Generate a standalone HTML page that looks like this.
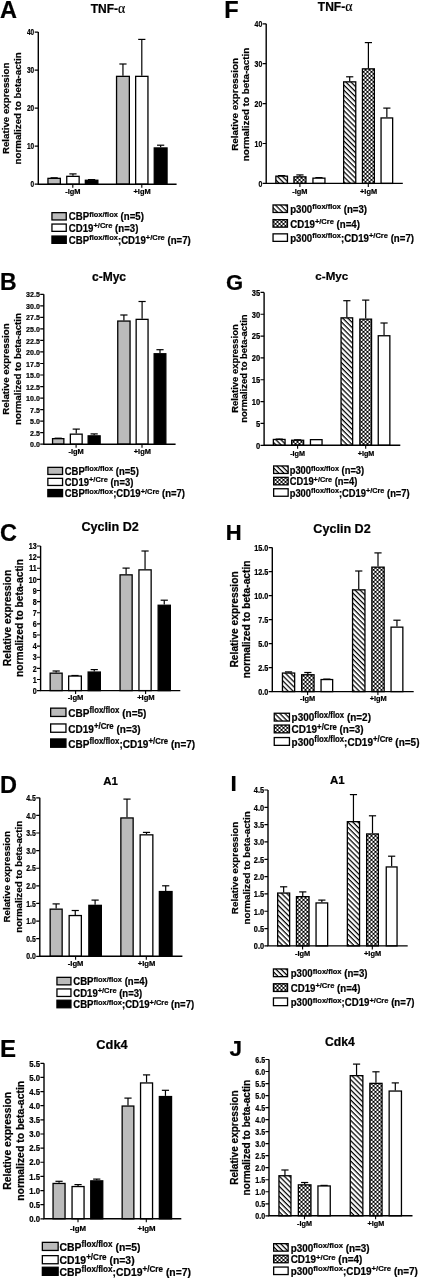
<!DOCTYPE html>
<html><head><meta charset="utf-8"><style>
html,body{margin:0;padding:0;background:#fff;}
svg{display:block;-webkit-font-smoothing:antialiased;will-change:transform;}
text{font-family:"Liberation Sans", sans-serif;fill:#000;stroke:#000;stroke-width:0.22px;}
</style></head><body>
<svg width="421" height="1280" viewBox="0 0 421 1280">
<defs>
<pattern id="hatch" patternUnits="userSpaceOnUse" width="3.6" height="3.6" patternTransform="rotate(45)">
<rect width="3.6" height="3.6" fill="#fff"/><rect y="0" width="3.6" height="1.25" fill="#000"/></pattern>
<pattern id="check" patternUnits="userSpaceOnUse" width="4" height="4">
<rect width="4" height="4" fill="#000"/><circle cx="3.5" cy="1.9" r="1.12" fill="#fff"/><circle cx="1.5" cy="3.9" r="1.12" fill="#fff"/><circle cx="1.5" cy="-0.1" r="1.12" fill="#fff"/><circle cx="-0.5" cy="1.9" r="1.12" fill="#fff"/></pattern>
</defs>
<rect width="421" height="1280" fill="#fff"/>
<text x="0.0" y="18.4" font-size="23.5" font-weight="bold">A</text>
<text x="108" y="13.0" font-size="12" font-weight="bold" text-anchor="middle">TNF-<tspan font-family="Liberation Serif" font-weight="normal" font-size="13.80">α</tspan></text>
<line x1="54.15" y1="177.70" x2="54.15" y2="177.80" stroke="#000" stroke-width="1.2"/>
<line x1="50.55" y1="177.80" x2="57.75" y2="177.80" stroke="#000" stroke-width="1.2"/>
<rect x="47.95" y="178.35" width="12.40" height="5.85" fill="#bbbbbb" stroke="#000" stroke-width="1.3"/>
<line x1="72.95" y1="175.70" x2="72.95" y2="173.90" stroke="#000" stroke-width="1.2"/>
<line x1="69.35" y1="173.90" x2="76.55" y2="173.90" stroke="#000" stroke-width="1.2"/>
<rect x="66.75" y="176.35" width="12.40" height="7.85" fill="#ffffff" stroke="#000" stroke-width="1.3"/>
<line x1="91.60" y1="179.60" x2="91.60" y2="179.60" stroke="#000" stroke-width="1.2"/>
<line x1="88.00" y1="179.60" x2="95.20" y2="179.60" stroke="#000" stroke-width="1.2"/>
<rect x="85.35" y="180.25" width="12.50" height="3.95" fill="#000000" stroke="#000" stroke-width="1.3"/>
<line x1="122.95" y1="75.70" x2="122.95" y2="64.00" stroke="#000" stroke-width="1.2"/>
<line x1="119.35" y1="64.00" x2="126.55" y2="64.00" stroke="#000" stroke-width="1.2"/>
<rect x="116.55" y="76.35" width="12.80" height="107.85" fill="#bbbbbb" stroke="#000" stroke-width="1.3"/>
<line x1="141.80" y1="75.70" x2="141.80" y2="39.40" stroke="#000" stroke-width="1.2"/>
<line x1="138.20" y1="39.40" x2="145.40" y2="39.40" stroke="#000" stroke-width="1.2"/>
<rect x="135.65" y="76.35" width="12.30" height="107.85" fill="#ffffff" stroke="#000" stroke-width="1.3"/>
<line x1="160.65" y1="147.30" x2="160.65" y2="145.20" stroke="#000" stroke-width="1.2"/>
<line x1="157.05" y1="145.20" x2="164.25" y2="145.20" stroke="#000" stroke-width="1.2"/>
<rect x="154.25" y="147.95" width="12.80" height="36.25" fill="#000000" stroke="#000" stroke-width="1.3"/>
<path d="M38.30 32.10 V184.20 H176.60" fill="none" stroke="#000" stroke-width="1.4"/>
<text transform="translate(34.20 187.43) scale(0.766 1)" font-size="8.51" font-weight="bold" text-anchor="end">0</text>
<text transform="translate(34.20 149.40) scale(0.766 1)" font-size="8.51" font-weight="bold" text-anchor="end">10</text>
<text transform="translate(34.20 111.38) scale(0.766 1)" font-size="8.51" font-weight="bold" text-anchor="end">20</text>
<text transform="translate(34.20 73.35) scale(0.766 1)" font-size="8.51" font-weight="bold" text-anchor="end">30</text>
<text transform="translate(34.20 35.33) scale(0.766 1)" font-size="8.51" font-weight="bold" text-anchor="end">40</text>
<path d="M34.70 184.20 H38.30 M34.70 146.17 H38.30 M34.70 108.15 H38.30 M34.70 70.12 H38.30 M34.70 32.10 H38.30" stroke="#000" stroke-width="1.2"/>
<line x1="72.80" y1="184.20" x2="72.80" y2="187.70" stroke="#000" stroke-width="1.1"/>
<line x1="141.80" y1="184.20" x2="141.80" y2="187.70" stroke="#000" stroke-width="1.1"/>
<text x="72.80" y="194.20" font-size="7.42" font-weight="bold" text-anchor="middle">-IgM</text>
<text x="142.10" y="194.20" font-size="7.42" font-weight="bold" text-anchor="middle">+IgM</text>
<text transform="translate(9.30 108.40) rotate(-90) scale(1.0 1)" font-size="9.74" font-weight="bold" text-anchor="middle">Relative expression</text>
<text transform="translate(21.10 108.40) rotate(-90) scale(1.0 1)" font-size="9.74" font-weight="bold" text-anchor="middle">normalized to beta-actin</text>
<rect x="51.95" y="212.65" width="14.30" height="7.30" fill="#bbbbbb" stroke="#000" stroke-width="1.3"/>
<text transform="translate(68.80 220.30) scale(0.93 1)" font-weight="bold" xml:space="preserve"><tspan font-size="10.36">CBP</tspan><tspan font-size="8.08" dy="-3.42">flox/flox</tspan><tspan font-size="10.36" dy="3.42"> (n=5)</tspan></text>
<rect x="51.95" y="224.05" width="14.30" height="7.30" fill="#ffffff" stroke="#000" stroke-width="1.3"/>
<text transform="translate(68.80 231.70) scale(0.93 1)" font-weight="bold" xml:space="preserve"><tspan font-size="10.36">CD19</tspan><tspan font-size="8.08" dy="-3.42">+/Cre</tspan><tspan font-size="10.36" dy="3.42"> (n=3)</tspan></text>
<rect x="51.95" y="236.05" width="14.30" height="7.30" fill="#000000" stroke="#000" stroke-width="1.3"/>
<text transform="translate(68.80 243.70) scale(0.93 1)" font-weight="bold" xml:space="preserve"><tspan font-size="10.36">CBP</tspan><tspan font-size="8.08" dy="-3.42">flox/flox</tspan><tspan font-size="10.36" dy="3.42">;CD19</tspan><tspan font-size="8.08" dy="-3.42">+/Cre</tspan><tspan font-size="10.36" dy="3.42"> (n=7)</tspan></text>
<text x="0.0" y="290.3" font-size="23.0" font-weight="bold">B</text>
<text x="109" y="280.9" font-size="12" font-weight="bold" text-anchor="middle">c-Myc</text>
<line x1="58.20" y1="438.00" x2="58.20" y2="438.20" stroke="#000" stroke-width="1.2"/>
<line x1="54.60" y1="438.20" x2="61.80" y2="438.20" stroke="#000" stroke-width="1.2"/>
<rect x="52.55" y="438.65" width="11.30" height="5.55" fill="#bbbbbb" stroke="#000" stroke-width="1.3"/>
<line x1="76.25" y1="433.50" x2="76.25" y2="429.10" stroke="#000" stroke-width="1.2"/>
<line x1="72.65" y1="429.10" x2="79.85" y2="429.10" stroke="#000" stroke-width="1.2"/>
<rect x="70.35" y="434.15" width="11.80" height="10.05" fill="#ffffff" stroke="#000" stroke-width="1.3"/>
<line x1="94.15" y1="435.20" x2="94.15" y2="433.90" stroke="#000" stroke-width="1.2"/>
<line x1="90.55" y1="433.90" x2="97.75" y2="433.90" stroke="#000" stroke-width="1.2"/>
<rect x="88.15" y="435.85" width="12.00" height="8.35" fill="#000000" stroke="#000" stroke-width="1.3"/>
<line x1="123.90" y1="320.40" x2="123.90" y2="315.00" stroke="#000" stroke-width="1.2"/>
<line x1="120.30" y1="315.00" x2="127.50" y2="315.00" stroke="#000" stroke-width="1.2"/>
<rect x="117.75" y="321.05" width="12.30" height="123.15" fill="#bbbbbb" stroke="#000" stroke-width="1.3"/>
<line x1="142.10" y1="318.70" x2="142.10" y2="301.50" stroke="#000" stroke-width="1.2"/>
<line x1="138.50" y1="301.50" x2="145.70" y2="301.50" stroke="#000" stroke-width="1.2"/>
<rect x="136.15" y="319.35" width="11.90" height="124.85" fill="#ffffff" stroke="#000" stroke-width="1.3"/>
<line x1="160.00" y1="353.10" x2="160.00" y2="349.70" stroke="#000" stroke-width="1.2"/>
<line x1="156.40" y1="349.70" x2="163.60" y2="349.70" stroke="#000" stroke-width="1.2"/>
<rect x="154.15" y="353.75" width="11.70" height="90.45" fill="#000000" stroke="#000" stroke-width="1.3"/>
<path d="M43.80 294.30 V444.20 H175.60" fill="none" stroke="#000" stroke-width="1.4"/>
<text transform="translate(39.90 447.27) scale(0.880 1)" font-size="8.06" font-weight="bold" text-anchor="end">0.0</text>
<text transform="translate(39.90 435.74) scale(0.880 1)" font-size="8.06" font-weight="bold" text-anchor="end">2.5</text>
<text transform="translate(39.90 424.21) scale(0.880 1)" font-size="8.06" font-weight="bold" text-anchor="end">5.0</text>
<text transform="translate(39.90 412.68) scale(0.880 1)" font-size="8.06" font-weight="bold" text-anchor="end">7.5</text>
<text transform="translate(39.90 401.15) scale(0.880 1)" font-size="8.06" font-weight="bold" text-anchor="end">10.0</text>
<text transform="translate(39.90 389.62) scale(0.880 1)" font-size="8.06" font-weight="bold" text-anchor="end">12.5</text>
<text transform="translate(39.90 378.09) scale(0.880 1)" font-size="8.06" font-weight="bold" text-anchor="end">15.0</text>
<text transform="translate(39.90 366.56) scale(0.880 1)" font-size="8.06" font-weight="bold" text-anchor="end">17.5</text>
<text transform="translate(39.90 355.03) scale(0.880 1)" font-size="8.06" font-weight="bold" text-anchor="end">20.0</text>
<text transform="translate(39.90 343.50) scale(0.880 1)" font-size="8.06" font-weight="bold" text-anchor="end">22.5</text>
<text transform="translate(39.90 331.96) scale(0.880 1)" font-size="8.06" font-weight="bold" text-anchor="end">25.0</text>
<text transform="translate(39.90 320.43) scale(0.880 1)" font-size="8.06" font-weight="bold" text-anchor="end">27.5</text>
<text transform="translate(39.90 308.90) scale(0.880 1)" font-size="8.06" font-weight="bold" text-anchor="end">30.0</text>
<text transform="translate(39.90 297.37) scale(0.880 1)" font-size="8.06" font-weight="bold" text-anchor="end">32.5</text>
<path d="M40.20 444.20 H43.80 M40.20 432.67 H43.80 M40.20 421.14 H43.80 M40.20 409.61 H43.80 M40.20 398.08 H43.80 M40.20 386.55 H43.80 M40.20 375.02 H43.80 M40.20 363.48 H43.80 M40.20 351.95 H43.80 M40.20 340.42 H43.80 M40.20 328.89 H43.80 M40.20 317.36 H43.80 M40.20 305.83 H43.80 M40.20 294.30 H43.80" stroke="#000" stroke-width="1.2"/>
<line x1="76.10" y1="444.20" x2="76.10" y2="447.70" stroke="#000" stroke-width="1.1"/>
<line x1="142.00" y1="444.20" x2="142.00" y2="447.70" stroke="#000" stroke-width="1.1"/>
<text x="76.10" y="454.20" font-size="7.42" font-weight="bold" text-anchor="middle">-IgM</text>
<text x="142.30" y="454.20" font-size="7.42" font-weight="bold" text-anchor="middle">+IgM</text>
<text transform="translate(8.90 369.00) rotate(-90) scale(1.0 1)" font-size="9.74" font-weight="bold" text-anchor="middle">Relative expression</text>
<text transform="translate(21.30 369.00) rotate(-90) scale(1.0 1)" font-size="9.74" font-weight="bold" text-anchor="middle">normalized to beta-actin</text>
<rect x="47.85" y="467.35" width="14.70" height="7.10" fill="#bbbbbb" stroke="#000" stroke-width="1.3"/>
<text transform="translate(64.70 474.80) scale(0.918 1)" font-weight="bold" xml:space="preserve"><tspan font-size="10.36">CBP</tspan><tspan font-size="8.08" dy="-3.42">flox/flox</tspan><tspan font-size="10.36" dy="3.42"> (n=5)</tspan></text>
<rect x="47.85" y="478.35" width="14.70" height="7.10" fill="#ffffff" stroke="#000" stroke-width="1.3"/>
<text transform="translate(64.70 485.80) scale(0.918 1)" font-weight="bold" xml:space="preserve"><tspan font-size="10.36">CD19</tspan><tspan font-size="8.08" dy="-3.42">+/Cre</tspan><tspan font-size="10.36" dy="3.42"> (n=3)</tspan></text>
<rect x="47.85" y="489.55" width="14.70" height="7.10" fill="#000000" stroke="#000" stroke-width="1.3"/>
<text transform="translate(64.70 497.00) scale(0.918 1)" font-weight="bold" xml:space="preserve"><tspan font-size="10.36">CBP</tspan><tspan font-size="8.08" dy="-3.42">flox/flox</tspan><tspan font-size="10.36" dy="3.42">;CD19</tspan><tspan font-size="8.08" dy="-3.42">+/Cre</tspan><tspan font-size="10.36" dy="3.42"> (n=7)</tspan></text>
<text x="0.0" y="541.4" font-size="23.5" font-weight="bold">C</text>
<text x="110.1" y="531.2" font-size="12.6" font-weight="bold" text-anchor="middle">Cyclin D2</text>
<line x1="56.15" y1="672.50" x2="56.15" y2="671.00" stroke="#000" stroke-width="1.2"/>
<line x1="52.55" y1="671.00" x2="59.75" y2="671.00" stroke="#000" stroke-width="1.2"/>
<rect x="50.15" y="673.15" width="12.00" height="17.45" fill="#bbbbbb" stroke="#000" stroke-width="1.3"/>
<line x1="75.00" y1="675.40" x2="75.00" y2="675.50" stroke="#000" stroke-width="1.2"/>
<line x1="71.40" y1="675.50" x2="78.60" y2="675.50" stroke="#000" stroke-width="1.2"/>
<rect x="68.65" y="676.05" width="12.70" height="14.55" fill="#ffffff" stroke="#000" stroke-width="1.3"/>
<line x1="94.25" y1="671.40" x2="94.25" y2="669.60" stroke="#000" stroke-width="1.2"/>
<line x1="90.65" y1="669.60" x2="97.85" y2="669.60" stroke="#000" stroke-width="1.2"/>
<rect x="88.15" y="672.05" width="12.20" height="18.55" fill="#000000" stroke="#000" stroke-width="1.3"/>
<line x1="126.10" y1="574.20" x2="126.10" y2="568.10" stroke="#000" stroke-width="1.2"/>
<line x1="122.50" y1="568.10" x2="129.70" y2="568.10" stroke="#000" stroke-width="1.2"/>
<rect x="120.05" y="574.85" width="12.10" height="115.75" fill="#bbbbbb" stroke="#000" stroke-width="1.3"/>
<line x1="145.05" y1="569.20" x2="145.05" y2="551.00" stroke="#000" stroke-width="1.2"/>
<line x1="141.45" y1="551.00" x2="148.65" y2="551.00" stroke="#000" stroke-width="1.2"/>
<rect x="138.95" y="569.85" width="12.20" height="120.75" fill="#ffffff" stroke="#000" stroke-width="1.3"/>
<line x1="164.25" y1="604.60" x2="164.25" y2="600.20" stroke="#000" stroke-width="1.2"/>
<line x1="160.65" y1="600.20" x2="167.85" y2="600.20" stroke="#000" stroke-width="1.2"/>
<rect x="158.15" y="605.25" width="12.20" height="85.35" fill="#000000" stroke="#000" stroke-width="1.3"/>
<path d="M40.60 546.00 V690.60 H180.30" fill="none" stroke="#000" stroke-width="1.4"/>
<text transform="translate(36.70 693.75) scale(0.862 1)" font-size="8.29" font-weight="bold" text-anchor="end">0</text>
<text transform="translate(36.70 682.63) scale(0.862 1)" font-size="8.29" font-weight="bold" text-anchor="end">1</text>
<text transform="translate(36.70 671.50) scale(0.862 1)" font-size="8.29" font-weight="bold" text-anchor="end">2</text>
<text transform="translate(36.70 660.38) scale(0.862 1)" font-size="8.29" font-weight="bold" text-anchor="end">3</text>
<text transform="translate(36.70 649.26) scale(0.862 1)" font-size="8.29" font-weight="bold" text-anchor="end">4</text>
<text transform="translate(36.70 638.14) scale(0.862 1)" font-size="8.29" font-weight="bold" text-anchor="end">5</text>
<text transform="translate(36.70 627.01) scale(0.862 1)" font-size="8.29" font-weight="bold" text-anchor="end">6</text>
<text transform="translate(36.70 615.89) scale(0.862 1)" font-size="8.29" font-weight="bold" text-anchor="end">7</text>
<text transform="translate(36.70 604.77) scale(0.862 1)" font-size="8.29" font-weight="bold" text-anchor="end">8</text>
<text transform="translate(36.70 593.64) scale(0.862 1)" font-size="8.29" font-weight="bold" text-anchor="end">9</text>
<text transform="translate(36.70 582.52) scale(0.862 1)" font-size="8.29" font-weight="bold" text-anchor="end">10</text>
<text transform="translate(36.70 571.40) scale(0.862 1)" font-size="8.29" font-weight="bold" text-anchor="end">11</text>
<text transform="translate(36.70 560.27) scale(0.862 1)" font-size="8.29" font-weight="bold" text-anchor="end">12</text>
<text transform="translate(36.70 549.15) scale(0.862 1)" font-size="8.29" font-weight="bold" text-anchor="end">13</text>
<path d="M37.00 690.60 H40.60 M37.00 679.48 H40.60 M37.00 668.35 H40.60 M37.00 657.23 H40.60 M37.00 646.11 H40.60 M37.00 634.98 H40.60 M37.00 623.86 H40.60 M37.00 612.74 H40.60 M37.00 601.62 H40.60 M37.00 590.49 H40.60 M37.00 579.37 H40.60 M37.00 568.25 H40.60 M37.00 557.12 H40.60 M37.00 546.00 H40.60" stroke="#000" stroke-width="1.2"/>
<line x1="75.60" y1="690.60" x2="75.60" y2="694.10" stroke="#000" stroke-width="1.1"/>
<line x1="145.60" y1="690.60" x2="145.60" y2="694.10" stroke="#000" stroke-width="1.1"/>
<text x="75.60" y="700.20" font-size="7.62" font-weight="bold" text-anchor="middle">-IgM</text>
<text x="145.90" y="700.20" font-size="7.62" font-weight="bold" text-anchor="middle">+IgM</text>
<text transform="translate(10.70 618.00) rotate(-90) scale(1.0 1)" font-size="10.25" font-weight="bold" text-anchor="middle">Relative expression</text>
<text transform="translate(22.60 618.00) rotate(-90) scale(1.0 1)" font-size="10.25" font-weight="bold" text-anchor="middle">normalized to beta-actin</text>
<rect x="50.65" y="708.15" width="15.30" height="8.30" fill="#bbbbbb" stroke="#000" stroke-width="1.3"/>
<text transform="translate(68.30 716.80) scale(0.92 1)" font-weight="bold" xml:space="preserve"><tspan font-size="10.9">CBP</tspan><tspan font-size="8.50" dy="-3.60">flox/flox</tspan><tspan font-size="10.9" dy="3.60"> (n=5)</tspan></text>
<rect x="50.65" y="723.95" width="15.30" height="8.30" fill="#ffffff" stroke="#000" stroke-width="1.3"/>
<text transform="translate(68.30 732.60) scale(0.92 1)" font-weight="bold" xml:space="preserve"><tspan font-size="10.9">CD19</tspan><tspan font-size="8.50" dy="-3.60">+/Cre</tspan><tspan font-size="10.9" dy="3.60"> (n=3)</tspan></text>
<rect x="50.65" y="738.95" width="15.30" height="8.30" fill="#000000" stroke="#000" stroke-width="1.3"/>
<text transform="translate(68.30 747.60) scale(0.92 1)" font-weight="bold" xml:space="preserve"><tspan font-size="10.9">CBP</tspan><tspan font-size="8.50" dy="-3.60">flox/flox</tspan><tspan font-size="10.9" dy="3.60">;CD19</tspan><tspan font-size="8.50" dy="-3.60">+/Cre</tspan><tspan font-size="10.9" dy="3.60"> (n=7)</tspan></text>
<text x="0.0" y="792.5" font-size="23.5" font-weight="bold">D</text>
<text x="110.6" y="785.0" font-size="11.5" font-weight="bold" text-anchor="middle">A1</text>
<line x1="56.15" y1="908.50" x2="56.15" y2="903.90" stroke="#000" stroke-width="1.2"/>
<line x1="52.55" y1="903.90" x2="59.75" y2="903.90" stroke="#000" stroke-width="1.2"/>
<rect x="50.15" y="909.15" width="12.00" height="47.15" fill="#bbbbbb" stroke="#000" stroke-width="1.3"/>
<line x1="75.25" y1="914.90" x2="75.25" y2="910.50" stroke="#000" stroke-width="1.2"/>
<line x1="71.65" y1="910.50" x2="78.85" y2="910.50" stroke="#000" stroke-width="1.2"/>
<rect x="69.15" y="915.55" width="12.20" height="40.75" fill="#ffffff" stroke="#000" stroke-width="1.3"/>
<line x1="95.10" y1="904.70" x2="95.10" y2="900.10" stroke="#000" stroke-width="1.2"/>
<line x1="91.50" y1="900.10" x2="98.70" y2="900.10" stroke="#000" stroke-width="1.2"/>
<rect x="88.85" y="905.35" width="12.50" height="50.95" fill="#000000" stroke="#000" stroke-width="1.3"/>
<line x1="127.00" y1="817.30" x2="127.00" y2="799.10" stroke="#000" stroke-width="1.2"/>
<line x1="123.40" y1="799.10" x2="130.60" y2="799.10" stroke="#000" stroke-width="1.2"/>
<rect x="120.85" y="817.95" width="12.30" height="138.35" fill="#bbbbbb" stroke="#000" stroke-width="1.3"/>
<line x1="146.50" y1="834.20" x2="146.50" y2="832.40" stroke="#000" stroke-width="1.2"/>
<line x1="142.90" y1="832.40" x2="150.10" y2="832.40" stroke="#000" stroke-width="1.2"/>
<rect x="140.15" y="834.85" width="12.70" height="121.45" fill="#ffffff" stroke="#000" stroke-width="1.3"/>
<line x1="165.70" y1="890.90" x2="165.70" y2="885.80" stroke="#000" stroke-width="1.2"/>
<line x1="162.10" y1="885.80" x2="169.30" y2="885.80" stroke="#000" stroke-width="1.2"/>
<rect x="159.35" y="891.55" width="12.70" height="64.75" fill="#000000" stroke="#000" stroke-width="1.3"/>
<path d="M39.80 797.80 V956.30 H182.40" fill="none" stroke="#000" stroke-width="1.4"/>
<text transform="translate(35.90 959.45) scale(0.836 1)" font-size="8.29" font-weight="bold" text-anchor="end">0.0</text>
<text transform="translate(35.90 941.84) scale(0.836 1)" font-size="8.29" font-weight="bold" text-anchor="end">0.5</text>
<text transform="translate(35.90 924.23) scale(0.836 1)" font-size="8.29" font-weight="bold" text-anchor="end">1.0</text>
<text transform="translate(35.90 906.62) scale(0.836 1)" font-size="8.29" font-weight="bold" text-anchor="end">1.5</text>
<text transform="translate(35.90 889.01) scale(0.836 1)" font-size="8.29" font-weight="bold" text-anchor="end">2.0</text>
<text transform="translate(35.90 871.40) scale(0.836 1)" font-size="8.29" font-weight="bold" text-anchor="end">2.5</text>
<text transform="translate(35.90 853.78) scale(0.836 1)" font-size="8.29" font-weight="bold" text-anchor="end">3.0</text>
<text transform="translate(35.90 836.17) scale(0.836 1)" font-size="8.29" font-weight="bold" text-anchor="end">3.5</text>
<text transform="translate(35.90 818.56) scale(0.836 1)" font-size="8.29" font-weight="bold" text-anchor="end">4.0</text>
<text transform="translate(35.90 800.95) scale(0.836 1)" font-size="8.29" font-weight="bold" text-anchor="end">4.5</text>
<path d="M36.20 956.30 H39.80 M36.20 938.69 H39.80 M36.20 921.08 H39.80 M36.20 903.47 H39.80 M36.20 885.86 H39.80 M36.20 868.24 H39.80 M36.20 850.63 H39.80 M36.20 833.02 H39.80 M36.20 815.41 H39.80 M36.20 797.80 H39.80" stroke="#000" stroke-width="1.2"/>
<line x1="75.60" y1="956.30" x2="75.60" y2="959.80" stroke="#000" stroke-width="1.1"/>
<line x1="146.30" y1="956.30" x2="146.30" y2="959.80" stroke="#000" stroke-width="1.1"/>
<text x="75.60" y="966.20" font-size="7.62" font-weight="bold" text-anchor="middle">-IgM</text>
<text x="146.60" y="966.20" font-size="7.62" font-weight="bold" text-anchor="middle">+IgM</text>
<text transform="translate(10.00 876.80) rotate(-90) scale(1.0 1)" font-size="9.74" font-weight="bold" text-anchor="middle">Relative expression</text>
<text transform="translate(22.00 876.80) rotate(-90) scale(1.0 1)" font-size="9.74" font-weight="bold" text-anchor="middle">normalized to beta-actin</text>
<rect x="56.95" y="977.35" width="14.00" height="7.50" fill="#bbbbbb" stroke="#000" stroke-width="1.3"/>
<text transform="translate(73.30 985.20) scale(0.922 1)" font-weight="bold" xml:space="preserve"><tspan font-size="10.36">CBP</tspan><tspan font-size="8.08" dy="-3.42">flox/flox</tspan><tspan font-size="10.36" dy="3.42"> (n=4)</tspan></text>
<rect x="56.95" y="988.95" width="14.00" height="7.50" fill="#ffffff" stroke="#000" stroke-width="1.3"/>
<text transform="translate(73.30 996.80) scale(0.922 1)" font-weight="bold" xml:space="preserve"><tspan font-size="10.36">CD19</tspan><tspan font-size="8.08" dy="-3.42">+/Cre</tspan><tspan font-size="10.36" dy="3.42"> (n=3)</tspan></text>
<rect x="56.95" y="1000.25" width="14.00" height="7.50" fill="#000000" stroke="#000" stroke-width="1.3"/>
<text transform="translate(73.30 1008.10) scale(0.922 1)" font-weight="bold" xml:space="preserve"><tspan font-size="10.36">CBP</tspan><tspan font-size="8.08" dy="-3.42">flox/flox</tspan><tspan font-size="10.36" dy="3.42">;CD19</tspan><tspan font-size="8.08" dy="-3.42">+/Cre</tspan><tspan font-size="10.36" dy="3.42"> (n=7)</tspan></text>
<text x="0.0" y="1057.1" font-size="24" font-weight="bold">E</text>
<text x="112.0" y="1049.3" font-size="12.8" font-weight="bold" text-anchor="middle">Cdk4</text>
<line x1="59.05" y1="1182.80" x2="59.05" y2="1181.30" stroke="#000" stroke-width="1.2"/>
<line x1="55.45" y1="1181.30" x2="62.65" y2="1181.30" stroke="#000" stroke-width="1.2"/>
<rect x="53.05" y="1183.45" width="12.00" height="35.35" fill="#bbbbbb" stroke="#000" stroke-width="1.3"/>
<line x1="78.05" y1="1185.90" x2="78.05" y2="1184.60" stroke="#000" stroke-width="1.2"/>
<line x1="74.45" y1="1184.60" x2="81.65" y2="1184.60" stroke="#000" stroke-width="1.2"/>
<rect x="72.05" y="1186.55" width="12.00" height="32.25" fill="#ffffff" stroke="#000" stroke-width="1.3"/>
<line x1="96.75" y1="1180.20" x2="96.75" y2="1179.10" stroke="#000" stroke-width="1.2"/>
<line x1="93.15" y1="1179.10" x2="100.35" y2="1179.10" stroke="#000" stroke-width="1.2"/>
<rect x="90.75" y="1180.85" width="12.00" height="37.95" fill="#000000" stroke="#000" stroke-width="1.3"/>
<line x1="128.00" y1="1105.40" x2="128.00" y2="1098.10" stroke="#000" stroke-width="1.2"/>
<line x1="124.40" y1="1098.10" x2="131.60" y2="1098.10" stroke="#000" stroke-width="1.2"/>
<rect x="122.15" y="1106.05" width="11.70" height="112.75" fill="#bbbbbb" stroke="#000" stroke-width="1.3"/>
<line x1="146.55" y1="1082.30" x2="146.55" y2="1074.90" stroke="#000" stroke-width="1.2"/>
<line x1="142.95" y1="1074.90" x2="150.15" y2="1074.90" stroke="#000" stroke-width="1.2"/>
<rect x="140.55" y="1082.95" width="12.00" height="135.85" fill="#ffffff" stroke="#000" stroke-width="1.3"/>
<line x1="165.45" y1="1095.90" x2="165.45" y2="1090.30" stroke="#000" stroke-width="1.2"/>
<line x1="161.85" y1="1090.30" x2="169.05" y2="1090.30" stroke="#000" stroke-width="1.2"/>
<rect x="159.35" y="1096.55" width="12.20" height="122.25" fill="#000000" stroke="#000" stroke-width="1.3"/>
<path d="M44.00 1063.30 V1218.80 H181.30" fill="none" stroke="#000" stroke-width="1.4"/>
<text transform="translate(40.10 1222.03) scale(0.915 1)" font-size="8.51" font-weight="bold" text-anchor="end">0.0</text>
<text transform="translate(40.10 1207.89) scale(0.915 1)" font-size="8.51" font-weight="bold" text-anchor="end">0.5</text>
<text transform="translate(40.10 1193.76) scale(0.915 1)" font-size="8.51" font-weight="bold" text-anchor="end">1.0</text>
<text transform="translate(40.10 1179.62) scale(0.915 1)" font-size="8.51" font-weight="bold" text-anchor="end">1.5</text>
<text transform="translate(40.10 1165.48) scale(0.915 1)" font-size="8.51" font-weight="bold" text-anchor="end">2.0</text>
<text transform="translate(40.10 1151.35) scale(0.915 1)" font-size="8.51" font-weight="bold" text-anchor="end">2.5</text>
<text transform="translate(40.10 1137.21) scale(0.915 1)" font-size="8.51" font-weight="bold" text-anchor="end">3.0</text>
<text transform="translate(40.10 1123.07) scale(0.915 1)" font-size="8.51" font-weight="bold" text-anchor="end">3.5</text>
<text transform="translate(40.10 1108.94) scale(0.915 1)" font-size="8.51" font-weight="bold" text-anchor="end">4.0</text>
<text transform="translate(40.10 1094.80) scale(0.915 1)" font-size="8.51" font-weight="bold" text-anchor="end">4.5</text>
<text transform="translate(40.10 1080.67) scale(0.915 1)" font-size="8.51" font-weight="bold" text-anchor="end">5.0</text>
<text transform="translate(40.10 1066.53) scale(0.915 1)" font-size="8.51" font-weight="bold" text-anchor="end">5.5</text>
<path d="M40.40 1218.80 H44.00 M40.40 1204.66 H44.00 M40.40 1190.53 H44.00 M40.40 1176.39 H44.00 M40.40 1162.25 H44.00 M40.40 1148.12 H44.00 M40.40 1133.98 H44.00 M40.40 1119.85 H44.00 M40.40 1105.71 H44.00 M40.40 1091.57 H44.00 M40.40 1077.44 H44.00 M40.40 1063.30 H44.00" stroke="#000" stroke-width="1.2"/>
<line x1="78.00" y1="1218.80" x2="78.00" y2="1222.30" stroke="#000" stroke-width="1.1"/>
<line x1="146.30" y1="1218.80" x2="146.30" y2="1222.30" stroke="#000" stroke-width="1.1"/>
<text x="78.00" y="1230.60" font-size="7.83" font-weight="bold" text-anchor="middle">-IgM</text>
<text x="146.60" y="1230.60" font-size="7.83" font-weight="bold" text-anchor="middle">+IgM</text>
<text transform="translate(10.85 1140.80) rotate(-90) scale(1.0 1)" font-size="10.45" font-weight="bold" text-anchor="middle">Relative expression</text>
<text transform="translate(24.10 1140.80) rotate(-90) scale(1.0 1)" font-size="10.45" font-weight="bold" text-anchor="middle">normalized to beta-actin</text>
<rect x="42.35" y="1242.35" width="15.80" height="8.10" fill="#bbbbbb" stroke="#000" stroke-width="1.3"/>
<text transform="translate(59.60 1250.80) scale(0.935 1)" font-weight="bold" xml:space="preserve"><tspan font-size="11.12">CBP</tspan><tspan font-size="8.67" dy="-3.67">flox/flox</tspan><tspan font-size="11.12" dy="3.67"> (n=5)</tspan></text>
<rect x="42.35" y="1255.65" width="15.80" height="8.10" fill="#ffffff" stroke="#000" stroke-width="1.3"/>
<text transform="translate(59.60 1264.10) scale(0.935 1)" font-weight="bold" xml:space="preserve"><tspan font-size="11.12">CD19</tspan><tspan font-size="8.67" dy="-3.67">+/Cre</tspan><tspan font-size="11.12" dy="3.67"> (n=3)</tspan></text>
<rect x="42.35" y="1267.25" width="15.80" height="8.10" fill="#000000" stroke="#000" stroke-width="1.3"/>
<text transform="translate(59.60 1275.70) scale(0.935 1)" font-weight="bold" xml:space="preserve"><tspan font-size="11.12">CBP</tspan><tspan font-size="8.67" dy="-3.67">flox/flox</tspan><tspan font-size="11.12" dy="3.67">;CD19</tspan><tspan font-size="8.67" dy="-3.67">+/Cre</tspan><tspan font-size="11.12" dy="3.67"> (n=7)</tspan></text>
<text x="224.3" y="18.2" font-size="23.5" font-weight="bold">F</text>
<text x="335.1" y="11.1" font-size="12" font-weight="bold" text-anchor="middle">TNF-<tspan font-family="Liberation Serif" font-weight="normal" font-size="13.80">α</tspan></text>
<line x1="281.65" y1="175.50" x2="281.65" y2="175.60" stroke="#000" stroke-width="1.2"/>
<line x1="278.05" y1="175.60" x2="285.25" y2="175.60" stroke="#000" stroke-width="1.2"/>
<rect x="275.85" y="176.15" width="11.60" height="7.25" fill="url(#hatch)" stroke="#000" stroke-width="1.3"/>
<line x1="299.95" y1="176.20" x2="299.95" y2="174.90" stroke="#000" stroke-width="1.2"/>
<line x1="296.35" y1="174.90" x2="303.55" y2="174.90" stroke="#000" stroke-width="1.2"/>
<rect x="293.95" y="176.85" width="12.00" height="6.55" fill="url(#check)" stroke="#000" stroke-width="1.3"/>
<line x1="318.95" y1="177.50" x2="318.95" y2="177.60" stroke="#000" stroke-width="1.2"/>
<line x1="315.35" y1="177.60" x2="322.55" y2="177.60" stroke="#000" stroke-width="1.2"/>
<rect x="312.95" y="178.15" width="12.00" height="5.25" fill="#ffffff" stroke="#000" stroke-width="1.3"/>
<line x1="349.70" y1="81.20" x2="349.70" y2="76.80" stroke="#000" stroke-width="1.2"/>
<line x1="346.10" y1="76.80" x2="353.30" y2="76.80" stroke="#000" stroke-width="1.2"/>
<rect x="343.65" y="81.85" width="12.10" height="101.55" fill="url(#hatch)" stroke="#000" stroke-width="1.3"/>
<line x1="368.40" y1="68.20" x2="368.40" y2="42.60" stroke="#000" stroke-width="1.2"/>
<line x1="364.80" y1="42.60" x2="372.00" y2="42.60" stroke="#000" stroke-width="1.2"/>
<rect x="362.45" y="68.85" width="11.90" height="114.55" fill="url(#check)" stroke="#000" stroke-width="1.3"/>
<line x1="386.85" y1="117.30" x2="386.85" y2="108.10" stroke="#000" stroke-width="1.2"/>
<line x1="383.25" y1="108.10" x2="390.45" y2="108.10" stroke="#000" stroke-width="1.2"/>
<rect x="381.05" y="117.95" width="11.60" height="65.45" fill="#ffffff" stroke="#000" stroke-width="1.3"/>
<path d="M266.20 23.80 V183.40 H402.80" fill="none" stroke="#000" stroke-width="1.4"/>
<text transform="translate(262.30 186.71) scale(0.792 1)" font-size="8.74" font-weight="bold" text-anchor="end">0</text>
<text transform="translate(262.30 146.81) scale(0.792 1)" font-size="8.74" font-weight="bold" text-anchor="end">10</text>
<text transform="translate(262.30 106.91) scale(0.792 1)" font-size="8.74" font-weight="bold" text-anchor="end">20</text>
<text transform="translate(262.30 67.01) scale(0.792 1)" font-size="8.74" font-weight="bold" text-anchor="end">30</text>
<text transform="translate(262.30 27.11) scale(0.792 1)" font-size="8.74" font-weight="bold" text-anchor="end">40</text>
<path d="M262.60 183.40 H266.20 M262.60 143.50 H266.20 M262.60 103.60 H266.20 M262.60 63.70 H266.20 M262.60 23.80 H266.20" stroke="#000" stroke-width="1.2"/>
<line x1="299.90" y1="183.40" x2="299.90" y2="186.90" stroke="#000" stroke-width="1.1"/>
<line x1="368.30" y1="183.40" x2="368.30" y2="186.90" stroke="#000" stroke-width="1.1"/>
<text x="299.90" y="193.80" font-size="7.42" font-weight="bold" text-anchor="middle">-IgM</text>
<text x="368.60" y="193.80" font-size="7.42" font-weight="bold" text-anchor="middle">+IgM</text>
<text transform="translate(238.30 104.40) rotate(-90) scale(1.0 1)" font-size="9.9" font-weight="bold" text-anchor="middle">Relative expression</text>
<text transform="translate(248.80 104.40) rotate(-90) scale(1.0 1)" font-size="9.9" font-weight="bold" text-anchor="middle">normalized to beta-actin</text>
<rect x="273.05" y="204.95" width="14.40" height="7.50" fill="url(#hatch)" stroke="#000" stroke-width="1.3"/>
<text transform="translate(290.20 212.80) scale(0.933 1)" font-weight="bold" xml:space="preserve"><tspan font-size="10.36">p300</tspan><tspan font-size="8.08" dy="-3.42">flox/flox</tspan><tspan font-size="10.36" dy="3.42"> (n=3)</tspan></text>
<rect x="273.05" y="219.65" width="14.40" height="7.50" fill="url(#check)" stroke="#000" stroke-width="1.3"/>
<text transform="translate(290.20 227.50) scale(0.933 1)" font-weight="bold" xml:space="preserve"><tspan font-size="10.36">CD19</tspan><tspan font-size="8.08" dy="-3.42">+/Cre</tspan><tspan font-size="10.36" dy="3.42"> (n=4)</tspan></text>
<rect x="273.05" y="233.85" width="14.40" height="7.50" fill="#ffffff" stroke="#000" stroke-width="1.3"/>
<text transform="translate(290.20 241.70) scale(0.933 1)" font-weight="bold" xml:space="preserve"><tspan font-size="10.36">p300</tspan><tspan font-size="8.08" dy="-3.42">flox/flox</tspan><tspan font-size="10.36" dy="3.42">;CD19</tspan><tspan font-size="8.08" dy="-3.42">+/Cre</tspan><tspan font-size="10.36" dy="3.42"> (n=7)</tspan></text>
<text x="226.0" y="290.0" font-size="22" font-weight="bold">G</text>
<text x="331.8" y="279.7" font-size="11.6" font-weight="bold" text-anchor="middle">c-Myc</text>
<line x1="279.20" y1="438.80" x2="279.20" y2="439.10" stroke="#000" stroke-width="1.2"/>
<line x1="275.60" y1="439.10" x2="282.80" y2="439.10" stroke="#000" stroke-width="1.2"/>
<rect x="273.35" y="439.45" width="11.70" height="5.85" fill="url(#hatch)" stroke="#000" stroke-width="1.3"/>
<line x1="297.65" y1="439.60" x2="297.65" y2="439.80" stroke="#000" stroke-width="1.2"/>
<line x1="294.05" y1="439.80" x2="301.25" y2="439.80" stroke="#000" stroke-width="1.2"/>
<rect x="291.65" y="440.25" width="12.00" height="5.05" fill="url(#check)" stroke="#000" stroke-width="1.3"/>
<rect x="310.45" y="439.65" width="11.60" height="5.65" fill="#ffffff" stroke="#000" stroke-width="1.3"/>
<line x1="346.85" y1="317.20" x2="346.85" y2="300.70" stroke="#000" stroke-width="1.2"/>
<line x1="343.25" y1="300.70" x2="350.45" y2="300.70" stroke="#000" stroke-width="1.2"/>
<rect x="341.05" y="317.85" width="11.60" height="127.45" fill="url(#hatch)" stroke="#000" stroke-width="1.3"/>
<line x1="365.70" y1="318.50" x2="365.70" y2="300.10" stroke="#000" stroke-width="1.2"/>
<line x1="362.10" y1="300.10" x2="369.30" y2="300.10" stroke="#000" stroke-width="1.2"/>
<rect x="359.85" y="319.15" width="11.70" height="126.15" fill="url(#check)" stroke="#000" stroke-width="1.3"/>
<line x1="384.05" y1="335.10" x2="384.05" y2="323.00" stroke="#000" stroke-width="1.2"/>
<line x1="380.45" y1="323.00" x2="387.65" y2="323.00" stroke="#000" stroke-width="1.2"/>
<rect x="378.25" y="335.75" width="11.60" height="109.55" fill="#ffffff" stroke="#000" stroke-width="1.3"/>
<path d="M264.10 292.40 V445.30 H400.30" fill="none" stroke="#000" stroke-width="1.4"/>
<text transform="translate(260.20 448.57) scale(0.880 1)" font-size="8.62" font-weight="bold" text-anchor="end">0</text>
<text transform="translate(260.20 426.73) scale(0.880 1)" font-size="8.62" font-weight="bold" text-anchor="end">5</text>
<text transform="translate(260.20 404.88) scale(0.880 1)" font-size="8.62" font-weight="bold" text-anchor="end">10</text>
<text transform="translate(260.20 383.04) scale(0.880 1)" font-size="8.62" font-weight="bold" text-anchor="end">15</text>
<text transform="translate(260.20 361.20) scale(0.880 1)" font-size="8.62" font-weight="bold" text-anchor="end">20</text>
<text transform="translate(260.20 339.35) scale(0.880 1)" font-size="8.62" font-weight="bold" text-anchor="end">25</text>
<text transform="translate(260.20 317.51) scale(0.880 1)" font-size="8.62" font-weight="bold" text-anchor="end">30</text>
<text transform="translate(260.20 295.67) scale(0.880 1)" font-size="8.62" font-weight="bold" text-anchor="end">35</text>
<path d="M260.50 445.30 H264.10 M260.50 423.46 H264.10 M260.50 401.61 H264.10 M260.50 379.77 H264.10 M260.50 357.93 H264.10 M260.50 336.09 H264.10 M260.50 314.24 H264.10 M260.50 292.40 H264.10" stroke="#000" stroke-width="1.2"/>
<line x1="297.60" y1="445.30" x2="297.60" y2="448.80" stroke="#000" stroke-width="1.1"/>
<line x1="365.70" y1="445.30" x2="365.70" y2="448.80" stroke="#000" stroke-width="1.1"/>
<text x="297.60" y="455.60" font-size="7.21" font-weight="bold" text-anchor="middle">-IgM</text>
<text x="366.00" y="455.60" font-size="7.21" font-weight="bold" text-anchor="middle">+IgM</text>
<text transform="translate(237.70 368.60) rotate(-90) scale(1.0 1)" font-size="9.44" font-weight="bold" text-anchor="middle">Relative expression</text>
<text transform="translate(246.90 368.60) rotate(-90) scale(1.0 1)" font-size="9.44" font-weight="bold" text-anchor="middle">normalized to beta-actin</text>
<rect x="273.65" y="465.95" width="14.50" height="7.50" fill="url(#hatch)" stroke="#000" stroke-width="1.3"/>
<text transform="translate(289.70 473.80) scale(0.934 1)" font-weight="bold" xml:space="preserve"><tspan font-size="10.03">p300</tspan><tspan font-size="7.82" dy="-3.31">flox/flox</tspan><tspan font-size="10.03" dy="3.31"> (n=3)</tspan></text>
<rect x="273.65" y="477.35" width="14.50" height="7.50" fill="url(#check)" stroke="#000" stroke-width="1.3"/>
<text transform="translate(289.70 485.20) scale(0.934 1)" font-weight="bold" xml:space="preserve"><tspan font-size="10.03">CD19</tspan><tspan font-size="7.82" dy="-3.31">+/Cre</tspan><tspan font-size="10.03" dy="3.31"> (n=4)</tspan></text>
<rect x="273.65" y="488.75" width="14.50" height="7.50" fill="#ffffff" stroke="#000" stroke-width="1.3"/>
<text transform="translate(289.70 496.60) scale(0.934 1)" font-weight="bold" xml:space="preserve"><tspan font-size="10.03">p300</tspan><tspan font-size="7.82" dy="-3.31">flox/flox</tspan><tspan font-size="10.03" dy="3.31">;CD19</tspan><tspan font-size="7.82" dy="-3.31">+/Cre</tspan><tspan font-size="10.03" dy="3.31"> (n=7)</tspan></text>
<text x="225.8" y="540.3" font-size="22" font-weight="bold">H</text>
<text x="342.0" y="533.4" font-size="12.6" font-weight="bold" text-anchor="middle">Cyclin D2</text>
<line x1="288.55" y1="672.40" x2="288.55" y2="671.90" stroke="#000" stroke-width="1.2"/>
<line x1="284.95" y1="671.90" x2="292.15" y2="671.90" stroke="#000" stroke-width="1.2"/>
<rect x="282.45" y="673.05" width="12.20" height="18.55" fill="url(#hatch)" stroke="#000" stroke-width="1.3"/>
<line x1="307.85" y1="674.10" x2="307.85" y2="672.50" stroke="#000" stroke-width="1.2"/>
<line x1="304.25" y1="672.50" x2="311.45" y2="672.50" stroke="#000" stroke-width="1.2"/>
<rect x="301.65" y="674.75" width="12.40" height="16.85" fill="url(#check)" stroke="#000" stroke-width="1.3"/>
<line x1="326.85" y1="678.90" x2="326.85" y2="679.10" stroke="#000" stroke-width="1.2"/>
<line x1="323.25" y1="679.10" x2="330.45" y2="679.10" stroke="#000" stroke-width="1.2"/>
<rect x="321.05" y="679.55" width="11.60" height="12.05" fill="#ffffff" stroke="#000" stroke-width="1.3"/>
<line x1="358.75" y1="589.20" x2="358.75" y2="571.00" stroke="#000" stroke-width="1.2"/>
<line x1="355.15" y1="571.00" x2="362.35" y2="571.00" stroke="#000" stroke-width="1.2"/>
<rect x="352.55" y="589.85" width="12.40" height="101.75" fill="url(#hatch)" stroke="#000" stroke-width="1.3"/>
<line x1="378.00" y1="566.50" x2="378.00" y2="552.90" stroke="#000" stroke-width="1.2"/>
<line x1="374.40" y1="552.90" x2="381.60" y2="552.90" stroke="#000" stroke-width="1.2"/>
<rect x="371.85" y="567.15" width="12.30" height="124.45" fill="url(#check)" stroke="#000" stroke-width="1.3"/>
<line x1="396.95" y1="626.50" x2="396.95" y2="620.20" stroke="#000" stroke-width="1.2"/>
<line x1="393.35" y1="620.20" x2="400.55" y2="620.20" stroke="#000" stroke-width="1.2"/>
<rect x="391.05" y="627.15" width="11.80" height="64.45" fill="#ffffff" stroke="#000" stroke-width="1.3"/>
<path d="M272.30 547.60 V691.60 H413.70" fill="none" stroke="#000" stroke-width="1.4"/>
<text transform="translate(268.40 694.79) scale(0.862 1)" font-size="8.40" font-weight="bold" text-anchor="end">0.0</text>
<text transform="translate(268.40 670.79) scale(0.862 1)" font-size="8.40" font-weight="bold" text-anchor="end">2.5</text>
<text transform="translate(268.40 646.79) scale(0.862 1)" font-size="8.40" font-weight="bold" text-anchor="end">5.0</text>
<text transform="translate(268.40 622.79) scale(0.862 1)" font-size="8.40" font-weight="bold" text-anchor="end">7.5</text>
<text transform="translate(268.40 598.79) scale(0.862 1)" font-size="8.40" font-weight="bold" text-anchor="end">10.0</text>
<text transform="translate(268.40 574.79) scale(0.862 1)" font-size="8.40" font-weight="bold" text-anchor="end">12.5</text>
<text transform="translate(268.40 550.79) scale(0.862 1)" font-size="8.40" font-weight="bold" text-anchor="end">15.0</text>
<path d="M268.70 691.60 H272.30 M268.70 667.60 H272.30 M268.70 643.60 H272.30 M268.70 619.60 H272.30 M268.70 595.60 H272.30 M268.70 571.60 H272.30 M268.70 547.60 H272.30" stroke="#000" stroke-width="1.2"/>
<line x1="307.60" y1="691.60" x2="307.60" y2="695.10" stroke="#000" stroke-width="1.1"/>
<line x1="377.90" y1="691.60" x2="377.90" y2="695.10" stroke="#000" stroke-width="1.1"/>
<text x="307.60" y="701.40" font-size="7.42" font-weight="bold" text-anchor="middle">-IgM</text>
<text x="378.20" y="701.40" font-size="7.42" font-weight="bold" text-anchor="middle">+IgM</text>
<text transform="translate(238.25 619.40) rotate(-90) scale(1.0 1)" font-size="10.25" font-weight="bold" text-anchor="middle">Relative expression</text>
<text transform="translate(249.70 619.40) rotate(-90) scale(1.0 1)" font-size="10.25" font-weight="bold" text-anchor="middle">normalized to beta-actin</text>
<rect x="274.25" y="713.25" width="15.20" height="7.80" fill="url(#hatch)" stroke="#000" stroke-width="1.3"/>
<text transform="translate(291.60 721.40) scale(0.934 1)" font-weight="bold" xml:space="preserve"><tspan font-size="10.68">p300</tspan><tspan font-size="8.33" dy="-3.52">flox/flox</tspan><tspan font-size="10.68" dy="3.52"> (n=2)</tspan></text>
<rect x="274.25" y="725.05" width="15.20" height="7.80" fill="url(#check)" stroke="#000" stroke-width="1.3"/>
<text transform="translate(291.60 733.20) scale(0.934 1)" font-weight="bold" xml:space="preserve"><tspan font-size="10.68">CD19</tspan><tspan font-size="8.33" dy="-3.52">+/Cre</tspan><tspan font-size="10.68" dy="3.52"> (n=3)</tspan></text>
<rect x="274.25" y="737.55" width="15.20" height="7.80" fill="#ffffff" stroke="#000" stroke-width="1.3"/>
<text transform="translate(291.60 745.70) scale(0.934 1)" font-weight="bold" xml:space="preserve"><tspan font-size="10.68">p300</tspan><tspan font-size="8.33" dy="-3.52">flox/flox</tspan><tspan font-size="10.68" dy="3.52">;CD19</tspan><tspan font-size="8.33" dy="-3.52">+/Cre</tspan><tspan font-size="10.68" dy="3.52"> (n=5)</tspan></text>
<text x="230.6" y="791.0" font-size="22.7" font-weight="bold">I</text>
<text x="337.4" y="784.0" font-size="11.5" font-weight="bold" text-anchor="middle">A1</text>
<line x1="283.65" y1="892.40" x2="283.65" y2="886.80" stroke="#000" stroke-width="1.2"/>
<line x1="280.05" y1="886.80" x2="287.25" y2="886.80" stroke="#000" stroke-width="1.2"/>
<rect x="277.65" y="893.05" width="12.00" height="52.85" fill="url(#hatch)" stroke="#000" stroke-width="1.3"/>
<line x1="302.75" y1="896.00" x2="302.75" y2="891.90" stroke="#000" stroke-width="1.2"/>
<line x1="299.15" y1="891.90" x2="306.35" y2="891.90" stroke="#000" stroke-width="1.2"/>
<rect x="296.45" y="896.65" width="12.60" height="49.25" fill="url(#check)" stroke="#000" stroke-width="1.3"/>
<line x1="321.85" y1="902.30" x2="321.85" y2="900.10" stroke="#000" stroke-width="1.2"/>
<line x1="318.25" y1="900.10" x2="325.45" y2="900.10" stroke="#000" stroke-width="1.2"/>
<rect x="316.05" y="902.95" width="11.60" height="42.95" fill="#ffffff" stroke="#000" stroke-width="1.3"/>
<line x1="353.45" y1="821.00" x2="353.45" y2="794.60" stroke="#000" stroke-width="1.2"/>
<line x1="349.85" y1="794.60" x2="357.05" y2="794.60" stroke="#000" stroke-width="1.2"/>
<rect x="347.35" y="821.65" width="12.20" height="124.25" fill="url(#hatch)" stroke="#000" stroke-width="1.3"/>
<line x1="372.50" y1="833.30" x2="372.50" y2="815.80" stroke="#000" stroke-width="1.2"/>
<line x1="368.90" y1="815.80" x2="376.10" y2="815.80" stroke="#000" stroke-width="1.2"/>
<rect x="366.65" y="833.95" width="11.70" height="111.95" fill="url(#check)" stroke="#000" stroke-width="1.3"/>
<line x1="391.65" y1="866.30" x2="391.65" y2="856.20" stroke="#000" stroke-width="1.2"/>
<line x1="388.05" y1="856.20" x2="395.25" y2="856.20" stroke="#000" stroke-width="1.2"/>
<rect x="386.25" y="866.95" width="10.80" height="78.95" fill="#ffffff" stroke="#000" stroke-width="1.3"/>
<path d="M268.00 790.00 V945.90 H407.70" fill="none" stroke="#000" stroke-width="1.4"/>
<text transform="translate(264.10 949.25) scale(0.836 1)" font-size="8.85" font-weight="bold" text-anchor="end">0.0</text>
<text transform="translate(264.10 931.92) scale(0.836 1)" font-size="8.85" font-weight="bold" text-anchor="end">0.5</text>
<text transform="translate(264.10 914.60) scale(0.836 1)" font-size="8.85" font-weight="bold" text-anchor="end">1.0</text>
<text transform="translate(264.10 897.28) scale(0.836 1)" font-size="8.85" font-weight="bold" text-anchor="end">1.5</text>
<text transform="translate(264.10 879.96) scale(0.836 1)" font-size="8.85" font-weight="bold" text-anchor="end">2.0</text>
<text transform="translate(264.10 862.64) scale(0.836 1)" font-size="8.85" font-weight="bold" text-anchor="end">2.5</text>
<text transform="translate(264.10 845.31) scale(0.836 1)" font-size="8.85" font-weight="bold" text-anchor="end">3.0</text>
<text transform="translate(264.10 827.99) scale(0.836 1)" font-size="8.85" font-weight="bold" text-anchor="end">3.5</text>
<text transform="translate(264.10 810.67) scale(0.836 1)" font-size="8.85" font-weight="bold" text-anchor="end">4.0</text>
<text transform="translate(264.10 793.35) scale(0.836 1)" font-size="8.85" font-weight="bold" text-anchor="end">4.5</text>
<path d="M264.40 945.90 H268.00 M264.40 928.58 H268.00 M264.40 911.26 H268.00 M264.40 893.93 H268.00 M264.40 876.61 H268.00 M264.40 859.29 H268.00 M264.40 841.97 H268.00 M264.40 824.64 H268.00 M264.40 807.32 H268.00 M264.40 790.00 H268.00" stroke="#000" stroke-width="1.2"/>
<line x1="302.60" y1="945.90" x2="302.60" y2="949.40" stroke="#000" stroke-width="1.1"/>
<line x1="372.30" y1="945.90" x2="372.30" y2="949.40" stroke="#000" stroke-width="1.1"/>
<text x="302.60" y="955.60" font-size="7.42" font-weight="bold" text-anchor="middle">-IgM</text>
<text x="372.60" y="955.60" font-size="7.42" font-weight="bold" text-anchor="middle">+IgM</text>
<text transform="translate(237.50 867.90) rotate(-90) scale(1.0 1)" font-size="9.85" font-weight="bold" text-anchor="middle">Relative expression</text>
<text transform="translate(250.00 867.90) rotate(-90) scale(1.0 1)" font-size="9.85" font-weight="bold" text-anchor="middle">normalized to beta-actin</text>
<rect x="273.45" y="968.95" width="14.10" height="7.70" fill="url(#hatch)" stroke="#000" stroke-width="1.3"/>
<text transform="translate(290.70 977.00) scale(0.933 1)" font-weight="bold" xml:space="preserve"><tspan font-size="10.36">p300</tspan><tspan font-size="8.08" dy="-3.42">flox/flox</tspan><tspan font-size="10.36" dy="3.42"> (n=3)</tspan></text>
<rect x="273.45" y="983.75" width="14.10" height="7.70" fill="url(#check)" stroke="#000" stroke-width="1.3"/>
<text transform="translate(290.70 991.80) scale(0.933 1)" font-weight="bold" xml:space="preserve"><tspan font-size="10.36">CD19</tspan><tspan font-size="8.08" dy="-3.42">+/Cre</tspan><tspan font-size="10.36" dy="3.42"> (n=4)</tspan></text>
<rect x="273.45" y="997.95" width="14.10" height="7.70" fill="#ffffff" stroke="#000" stroke-width="1.3"/>
<text transform="translate(290.70 1006.00) scale(0.933 1)" font-weight="bold" xml:space="preserve"><tspan font-size="10.36">p300</tspan><tspan font-size="8.08" dy="-3.42">flox/flox</tspan><tspan font-size="10.36" dy="3.42">;CD19</tspan><tspan font-size="8.08" dy="-3.42">+/Cre</tspan><tspan font-size="10.36" dy="3.42"> (n=7)</tspan></text>
<text x="229.5" y="1055.7" font-size="22.5" font-weight="bold">J</text>
<text x="339.9" y="1045.7" font-size="12.2" font-weight="bold" text-anchor="middle">Cdk4</text>
<line x1="284.95" y1="1175.10" x2="284.95" y2="1170.00" stroke="#000" stroke-width="1.2"/>
<line x1="281.35" y1="1170.00" x2="288.55" y2="1170.00" stroke="#000" stroke-width="1.2"/>
<rect x="278.95" y="1175.75" width="12.00" height="40.05" fill="url(#hatch)" stroke="#000" stroke-width="1.3"/>
<line x1="304.65" y1="1184.20" x2="304.65" y2="1182.50" stroke="#000" stroke-width="1.2"/>
<line x1="301.05" y1="1182.50" x2="308.25" y2="1182.50" stroke="#000" stroke-width="1.2"/>
<rect x="298.35" y="1184.85" width="12.60" height="30.95" fill="url(#check)" stroke="#000" stroke-width="1.3"/>
<line x1="324.10" y1="1185.30" x2="324.10" y2="1185.40" stroke="#000" stroke-width="1.2"/>
<line x1="320.50" y1="1185.40" x2="327.70" y2="1185.40" stroke="#000" stroke-width="1.2"/>
<rect x="317.95" y="1185.95" width="12.30" height="29.85" fill="#ffffff" stroke="#000" stroke-width="1.3"/>
<line x1="356.55" y1="1075.00" x2="356.55" y2="1064.10" stroke="#000" stroke-width="1.2"/>
<line x1="352.95" y1="1064.10" x2="360.15" y2="1064.10" stroke="#000" stroke-width="1.2"/>
<rect x="350.25" y="1075.65" width="12.60" height="140.15" fill="url(#hatch)" stroke="#000" stroke-width="1.3"/>
<line x1="375.95" y1="1082.70" x2="375.95" y2="1071.80" stroke="#000" stroke-width="1.2"/>
<line x1="372.35" y1="1071.80" x2="379.55" y2="1071.80" stroke="#000" stroke-width="1.2"/>
<rect x="369.85" y="1083.35" width="12.20" height="132.45" fill="url(#check)" stroke="#000" stroke-width="1.3"/>
<line x1="395.30" y1="1090.40" x2="395.30" y2="1082.90" stroke="#000" stroke-width="1.2"/>
<line x1="391.70" y1="1082.90" x2="398.90" y2="1082.90" stroke="#000" stroke-width="1.2"/>
<rect x="389.15" y="1091.05" width="12.30" height="124.75" fill="#ffffff" stroke="#000" stroke-width="1.3"/>
<path d="M269.00 1059.50 V1215.80 H412.50" fill="none" stroke="#000" stroke-width="1.4"/>
<text transform="translate(265.10 1219.19) scale(0.792 1)" font-size="8.96" font-weight="bold" text-anchor="end">0.0</text>
<text transform="translate(265.10 1207.16) scale(0.792 1)" font-size="8.96" font-weight="bold" text-anchor="end">0.5</text>
<text transform="translate(265.10 1195.14) scale(0.792 1)" font-size="8.96" font-weight="bold" text-anchor="end">1.0</text>
<text transform="translate(265.10 1183.12) scale(0.792 1)" font-size="8.96" font-weight="bold" text-anchor="end">1.5</text>
<text transform="translate(265.10 1171.09) scale(0.792 1)" font-size="8.96" font-weight="bold" text-anchor="end">2.0</text>
<text transform="translate(265.10 1159.07) scale(0.792 1)" font-size="8.96" font-weight="bold" text-anchor="end">2.5</text>
<text transform="translate(265.10 1147.05) scale(0.792 1)" font-size="8.96" font-weight="bold" text-anchor="end">3.0</text>
<text transform="translate(265.10 1135.02) scale(0.792 1)" font-size="8.96" font-weight="bold" text-anchor="end">3.5</text>
<text transform="translate(265.10 1123.00) scale(0.792 1)" font-size="8.96" font-weight="bold" text-anchor="end">4.0</text>
<text transform="translate(265.10 1110.98) scale(0.792 1)" font-size="8.96" font-weight="bold" text-anchor="end">4.5</text>
<text transform="translate(265.10 1098.96) scale(0.792 1)" font-size="8.96" font-weight="bold" text-anchor="end">5.0</text>
<text transform="translate(265.10 1086.93) scale(0.792 1)" font-size="8.96" font-weight="bold" text-anchor="end">5.5</text>
<text transform="translate(265.10 1074.91) scale(0.792 1)" font-size="8.96" font-weight="bold" text-anchor="end">6.0</text>
<text transform="translate(265.10 1062.89) scale(0.792 1)" font-size="8.96" font-weight="bold" text-anchor="end">6.5</text>
<path d="M265.40 1215.80 H269.00 M265.40 1203.78 H269.00 M265.40 1191.75 H269.00 M265.40 1179.73 H269.00 M265.40 1167.71 H269.00 M265.40 1155.68 H269.00 M265.40 1143.66 H269.00 M265.40 1131.64 H269.00 M265.40 1119.62 H269.00 M265.40 1107.59 H269.00 M265.40 1095.57 H269.00 M265.40 1083.55 H269.00 M265.40 1071.52 H269.00 M265.40 1059.50 H269.00" stroke="#000" stroke-width="1.2"/>
<line x1="304.50" y1="1215.80" x2="304.50" y2="1219.30" stroke="#000" stroke-width="1.1"/>
<line x1="375.60" y1="1215.80" x2="375.60" y2="1219.30" stroke="#000" stroke-width="1.1"/>
<text x="304.50" y="1226.00" font-size="7.21" font-weight="bold" text-anchor="middle">-IgM</text>
<text x="375.90" y="1226.00" font-size="7.21" font-weight="bold" text-anchor="middle">+IgM</text>
<text transform="translate(237.95 1137.60) rotate(-90) scale(1.0 1)" font-size="10.05" font-weight="bold" text-anchor="middle">Relative expression</text>
<text transform="translate(250.00 1137.60) rotate(-90) scale(1.0 1)" font-size="10.05" font-weight="bold" text-anchor="middle">normalized to beta-actin</text>
<rect x="273.65" y="1243.65" width="14.50" height="7.50" fill="url(#hatch)" stroke="#000" stroke-width="1.3"/>
<text transform="translate(290.70 1251.50) scale(0.958 1)" font-weight="bold" xml:space="preserve"><tspan font-size="10.36">p300</tspan><tspan font-size="8.08" dy="-3.42">flox/flox</tspan><tspan font-size="10.36" dy="3.42"> (n=3)</tspan></text>
<rect x="273.65" y="1255.25" width="14.50" height="7.50" fill="url(#check)" stroke="#000" stroke-width="1.3"/>
<text transform="translate(290.70 1263.10) scale(0.958 1)" font-weight="bold" xml:space="preserve"><tspan font-size="10.36">CD19</tspan><tspan font-size="8.08" dy="-3.42">+/Cre</tspan><tspan font-size="10.36" dy="3.42"> (n=4)</tspan></text>
<rect x="273.65" y="1267.05" width="14.50" height="7.50" fill="#ffffff" stroke="#000" stroke-width="1.3"/>
<text transform="translate(290.70 1274.90) scale(0.958 1)" font-weight="bold" xml:space="preserve"><tspan font-size="10.36">p300</tspan><tspan font-size="8.08" dy="-3.42">flox/flox</tspan><tspan font-size="10.36" dy="3.42">;CD19</tspan><tspan font-size="8.08" dy="-3.42">+/Cre</tspan><tspan font-size="10.36" dy="3.42"> (n=7)</tspan></text>
</svg></body></html>
